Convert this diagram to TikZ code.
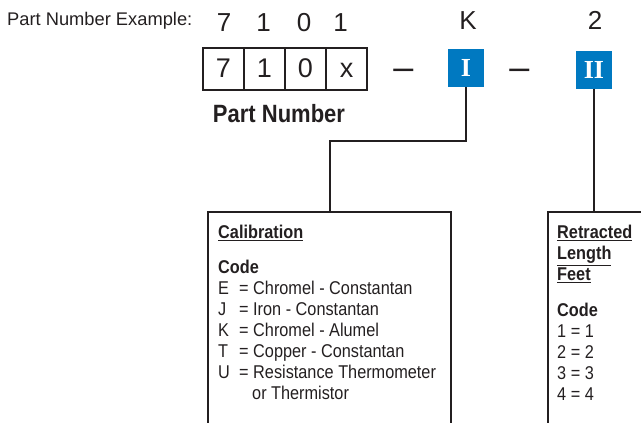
\documentclass[tikz,border=0pt]{standalone}
\usepackage{fontspec}
\setmainfont{Liberation Sans}
\newfontfamily\condfont[FakeStretch=0.88]{Liberation Sans}
\newfontfamily\romanfont{Liberation Serif}
\usetikzlibrary{positioning}
\definecolor{tagblue}{RGB}{0,121,193}
\definecolor{inkgray}{RGB}{35,31,32}

\begin{document}
\begin{tikzpicture}[
    x=1pt, y=-1pt,
    every node/.style={text=inkgray},
    cell/.style={rectangle, draw=inkgray, line width=1.9pt, outer sep=0pt, inner sep=0pt, minimum width=41pt, minimum height=42pt, text height=19.5pt, text depth=2pt, font=\fontsize{27}{27}\selectfont},
    digit/.style={anchor=base, inner sep=0pt, font=\fontsize{26}{26}\selectfont},
    sepmark/.style={anchor=base, inner sep=0pt, font=\fontsize{36}{36}\selectfont},
    tag/.style={rectangle, fill=tagblue, text=white, minimum width=36pt, minimum height=38pt, inner sep=0pt, font=\romanfont\bfseries\fontsize{26}{26}\selectfont},
    infobox/.style={rectangle, draw=inkgray, line width=1.9pt, anchor=north west, minimum height=260pt},
    info/.style={inner sep=0pt, align=left, font=\condfont\fontsize{18.5}{21}\selectfont},
    line/.style={draw=inkgray, line width=1.9pt}
]
\useasboundingbox (0,0) rectangle (641,423);
\clip (0,0) rectangle (641,423);

\node[anchor=base west, inner sep=0pt, font=\fontsize{18.3}{20}\selectfont] (example) at (7,26) {Part Number Example:};
\node[digit] (d1) at (224,31) {7};
\node[digit] (d2) at (263.5,31) {1};
\node[digit] (d3) at (304,31) {0};
\node[digit] (d4) at (340.5,31) {1};
\node[digit] (dK) at (468,30) {K};
\node[digit] (d5) at (595,30) {2};

\node[cell] (c1) at (223.5,69) {7};
\node[cell, right=0pt of c1] (c2) {1};
\node[cell, right=0pt of c2] (c3) {0};
\node[cell, right=0pt of c3] (c4) {x};
\node[anchor=base, inner sep=0pt, font=\condfont\bfseries\fontsize{25}{25}\selectfont] (partnum) at (279,122) {Part Number};

\node[sepmark] (sepA) at (403.5,79) {–};
\node[tag] (tagI) at (466,68) {I};
\node[sepmark] (sepB) at (519.5,79) {–};
\node[tag] (tagII) at (594,69.5) {II};

\node[infobox, minimum width=243pt] (calbox) at (207,211) {};
\node[infobox, minimum width=120pt] (lenbox) at (547,211) {};

\node[info, below right=14pt and 11pt of calbox.north west] (caltext) {%
\textbf{\underline{Calibration}}\\[14pt]
\textbf{Code}\\
\makebox[21pt][l]{E}= Chromel - Constantan\\
\makebox[21pt][l]{J}= Iron - Constantan\\
\makebox[21pt][l]{K}= Chromel - Alumel\\
\makebox[21pt][l]{T}= Copper - Constantan\\
\makebox[21pt][l]{U}= Resistance Thermometer\\
\hspace*{34pt}or Thermistor};
\node[info, below right=14pt and 10pt of lenbox.north west] (lentext) {%
\textbf{\underline{Retracted}}\\
\textbf{\underline{Length}}\\
\textbf{\underline{Feet}}\\[15pt]
\textbf{Code}\\
1 = 1\\
2 = 2\\
3 = 3\\
4 = 4};

\draw[line] (tagI.south) -- ++(0,54) -| ([xshift=123pt]calbox.north west);
\draw[line] (tagII.south) -- (tagII.south |- lenbox.north);
\end{tikzpicture}
\end{document}
